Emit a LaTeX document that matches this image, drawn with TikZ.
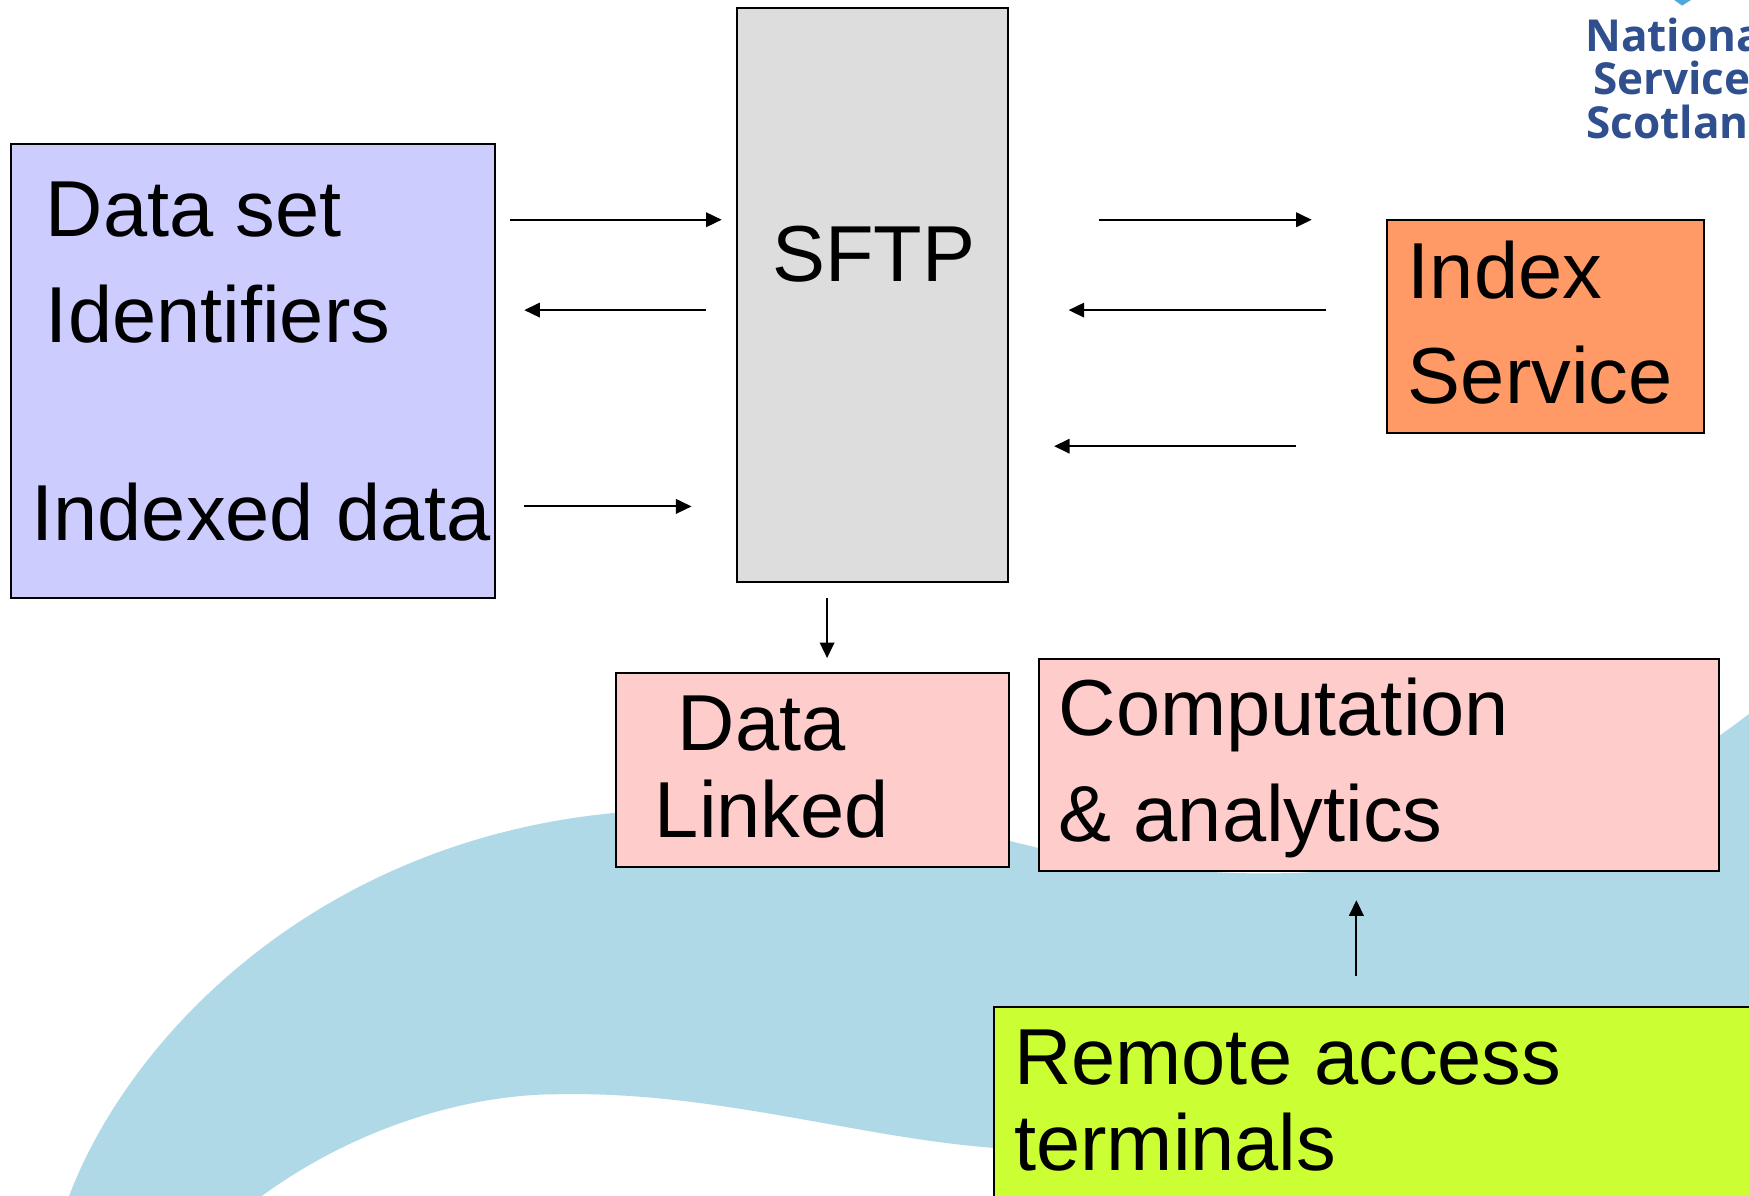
\documentclass[tikz,border=0pt]{standalone}
\usepackage{fontspec}
\setmainfont{Liberation Sans}
\newfontfamily\logofont{Open Sans}
\usetikzlibrary{arrows.meta}
\definecolor{swoosh}{HTML}{B0D9E8}
\definecolor{boxblue}{HTML}{CCCCFF}
\definecolor{boxgrey}{HTML}{DDDDDD}
\definecolor{boxorange}{HTML}{FF9966}
\definecolor{boxpink}{HTML}{FFCCCC}
\definecolor{boxlime}{HTML}{CCFF33}
\definecolor{logoblue}{HTML}{2F4F8E}
\definecolor{logosky}{HTML}{4FA8DC}
\tikzset{
  panel/.style={draw=black,line width=1.8pt,inner sep=0pt,anchor=north west},
  label/.style={font=\fontsize{71.2}{94}\selectfont,inner sep=0pt,anchor=west,align=left,text=black},
  logotext/.style={font=\logofont\bfseries\fontsize{39.5}{39.5}\selectfont,text=logoblue,inner sep=0pt,anchor=base west},
  flow/.style={draw=black,line width=1.8pt,-{Triangle[length=14pt,width=13pt]}}
}
\begin{document}
\begin{tikzpicture}[x=1pt,y=-1pt]
\useasboundingbox (0,0) rectangle (1568,1072);
\clip (0,0) rectangle (1568,1072);
\fill[white] (0,0) rectangle (1568,1072);
% background swoosh
\fill[swoosh] (62,1072) .. controls (118,925) and (290,750) .. (560,728)
  .. controls (720,715) and (830,735) .. (930,760)
  .. controls (1180,815) and (1400,770) .. (1568,640)
  -- (1568,1072) -- (1000,1072) -- (890,1029)
  .. controls (770,1020) and (640,978) .. (500,981)
  .. controls (420,981) and (320,1010) .. (235,1072) -- cycle;
% logo
\fill[logosky] (1501,0) -- (1516,0) -- (1508,5) -- cycle;
\node[logotext] (logoa) at (1421,46) {Nationa};
\node[logotext] (logob) at (1428,85) {Service};
\node[logotext] (logoc) at (1422,124) {Scotlan};
% boxes
\node[panel,fill=boxblue,minimum width=433.5pt,minimum height=406.5pt] (dataset) at (9,128.5) {};
\node[panel,fill=boxgrey,minimum width=243.5pt,minimum height=514.5pt] (sftp) at (659.5,6.5) {};
\node[panel,fill=boxorange,minimum width=284.5pt,minimum height=190.5pt] (index) at (1242.5,196.5) {};
\node[panel,fill=boxpink,minimum width=352.5pt,minimum height=174pt] (linked) at (551,602.5) {};
\node[panel,fill=boxpink,minimum width=609.5pt,minimum height=190.5pt] (comp) at (931,589.5) {};
\node[panel,fill=boxlime,minimum width=690pt,minimum height=190pt] (remote) at (890,901.5) {};
% labels
\node[label] (t1) at (41,188) {Data set};
\node[label] (t2) at (41,282) {Identifiers};
\node[label] (t3) at (28,459) {Indexed data};
\node[label] (t4) at (692,228) {SFTP};
\node[label] (t5) at (1262,242) {Index};
\node[label] (t6) at (1262,336) {Service};
\node[label] (t7) at (607.5,649) {Data};
\node[label] (t8) at (587,725) {Linked};
\node[label] (t9) at (949,641) {Computation};
\node[label] (t10) at (949,736) {\&\ analytics};
\node[label] (t11) at (909,948) {Remote access};
\node[label] (t12) at (909,1024) {terminals};
% connector ends
\coordinate (a1s) at (457,197); \coordinate (a1e) at (647,197);
\coordinate (a2s) at (633,278); \coordinate (a2e) at (470,278);
\coordinate (a3s) at (470,454); \coordinate (a3e) at (620,454);
\coordinate (a4s) at (985,197); \coordinate (a4e) at (1176,197);
\coordinate (a5s) at (1189,278); \coordinate (a5e) at (958,278);
\coordinate (a6s) at (1162,400); \coordinate (a6e) at (945,400);
\coordinate (a7s) at (741.5,536); \coordinate (a7e) at (741.5,590);
\coordinate (a8s) at (1216,875); \coordinate (a8e) at (1216,807);
\draw[flow] (a1s) -- (a1e);
\draw[flow] (a2s) -- (a2e);
\draw[flow] (a3s) -- (a3e);
\draw[flow] (a4s) -- (a4e);
\draw[flow] (a5s) -- (a5e);
\draw[flow] (a6s) -- (a6e);
\draw[flow] (a7s) -- (a7e);
\draw[flow] (a8s) -- (a8e);
\end{tikzpicture}
\end{document}
